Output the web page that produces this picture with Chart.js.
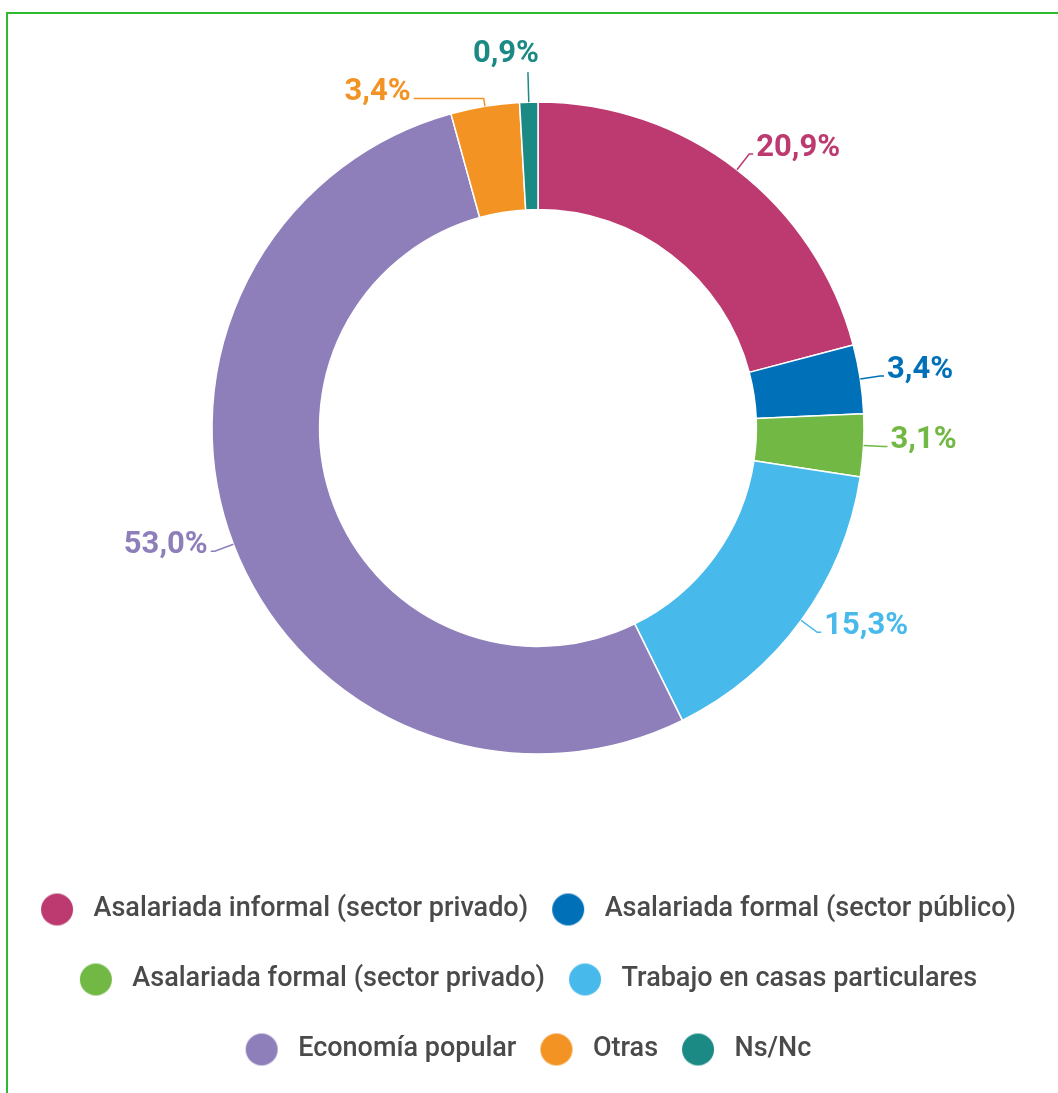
<!DOCTYPE html>
<html>
<head>
<meta charset="utf-8">
<script src="https://cdn.jsdelivr.net/npm/chart.js@4/dist/chart.umd.min.js"></script>
<style>
    body { margin: 0; background: #fff; overflow: hidden; }
    #frame {
        position: absolute;
        left: 6px;
        top: 12px;
        width: 1100px;
        height: 1200px;
        border-left: 2px solid #2fba2f;
        border-top: 2px solid #2fba2f;
    }
    #chart { position: absolute; left: -20px; top: 0; }
</style>
</head>
<body>
<div id="frame"></div>
<canvas id="chart" width="1116" height="1073"></canvas>
<script>
const labels = [
    "Asalariada informal (sector privado)",
    "Asalariada formal (sector público)",
    "Asalariada formal (sector privado)",
    "Trabajo en casas particulares",
    "Economía popular",
    "Otras",
    "Ns/Nc",
];
const shares = [20.9, 3.4, 3.1, 15.3, 53.0, 3.4, 0.9];
const colors = ["#bc3a70", "#0070b8", "#72b844", "#47b9ea", "#8e7fbb", "#f39323", "#1b8a84"];

// legend marker: circle drawn off-centre on a wider canvas, to get the spacing right
function makeDot(color) {
    const c = document.createElement("canvas");
    c.width = 80;
    c.height = 34;
    const g = c.getContext("2d");
    g.fillStyle = color;
    g.beginPath();
    g.arc(27, 17, 16, 0, Math.PI * 2);
    g.fill();
    return c;
}
const dots = colors.map(makeDot);

const outsideLabels = {
    id: "outsideLabels",
    afterDatasetsDraw(chart) {
        const ctx = chart.ctx;
        const meta = chart.getDatasetMeta(0);
        ctx.save();
        ctx.font = "bold 31px Roboto";
        ctx.lineWidth = 1.5;
        meta.data.forEach((arc, i) => {
            const { x, y, startAngle, endAngle, outerRadius } = arc.getProps(["x", "y", "startAngle", "endAngle", "outerRadius"], true);
            const mid = (startAngle + endAngle) / 2;
            const cos = Math.cos(mid), sin = Math.sin(mid);
            const top = Math.abs(cos) < 0.1;
            const steep = Math.abs(cos) < 0.3;
            const ext = top ? 30 : (steep ? 8 : 20);
            const x0 = x + cos * outerRadius, y0 = y + sin * outerRadius;
            const x1 = x + cos * (outerRadius + ext), y1 = y + sin * (outerRadius + ext);
            const text = shares[i].toFixed(1).replace(".", ",") + "%";
            ctx.strokeStyle = colors[i];
            ctx.fillStyle = colors[i];
            ctx.beginPath();
            ctx.moveTo(x0, y0);
            ctx.lineTo(x1, y1);
            if (top) {
                ctx.stroke();
                ctx.textAlign = "center";
                ctx.textBaseline = "bottom";
                ctx.fillText(text, x1 - 22, y1 - 2);
            } else {
                const side = cos > 0 ? 1 : -1;
                const leg = steep ? 70 : 4;
                const x2 = x1 + side * leg;
                ctx.lineTo(x2, y1);
                ctx.stroke();
                ctx.textAlign = side > 0 ? "left" : "right";
                ctx.textBaseline = "middle";
                ctx.fillText(text, x2 + side * 3, y1 - 6);
            }
        });
        ctx.restore();
    }
};

const ctx = document.getElementById("chart").getContext("2d");
const shareChart = new Chart(ctx, {
    type: "doughnut",
    data: {
        labels: labels,
        datasets: [{
            data: shares,
            backgroundColor: colors,
            borderColor: "#ffffff",
            borderWidth: 1.5,
            radius: 326,
            hoverOffset: 0,
        }]
    },
    options: {
        responsive: false,
        animation: false,
        cutout: "67%",
        layout: {
            padding: {
                top: 3,
                left: 0,
                right: 0,
                bottom: 0,
            }
        },
        plugins: {
            tooltip: { enabled: false },
            legend: {
                position: "bottom",
                labels: {
                    usePointStyle: true,
                    pointStyleWidth: 20,
                    padding: 43,
                    color: "#4a4a4a",
                    font: { family: "Roboto", size: 27, weight: "500" },
                    generateLabels: (chart) => {
                        const items = Chart.overrides.doughnut.plugins.legend.labels.generateLabels(chart);
                        return items.map((item, i) => {
                            item.pointStyle = dots[i];
                            item.lineWidth = 0;
                            return item;
                        });
                    },
                },
            },
        },
    },
    plugins: [outsideLabels],
});
</script>
</body>
</html>
